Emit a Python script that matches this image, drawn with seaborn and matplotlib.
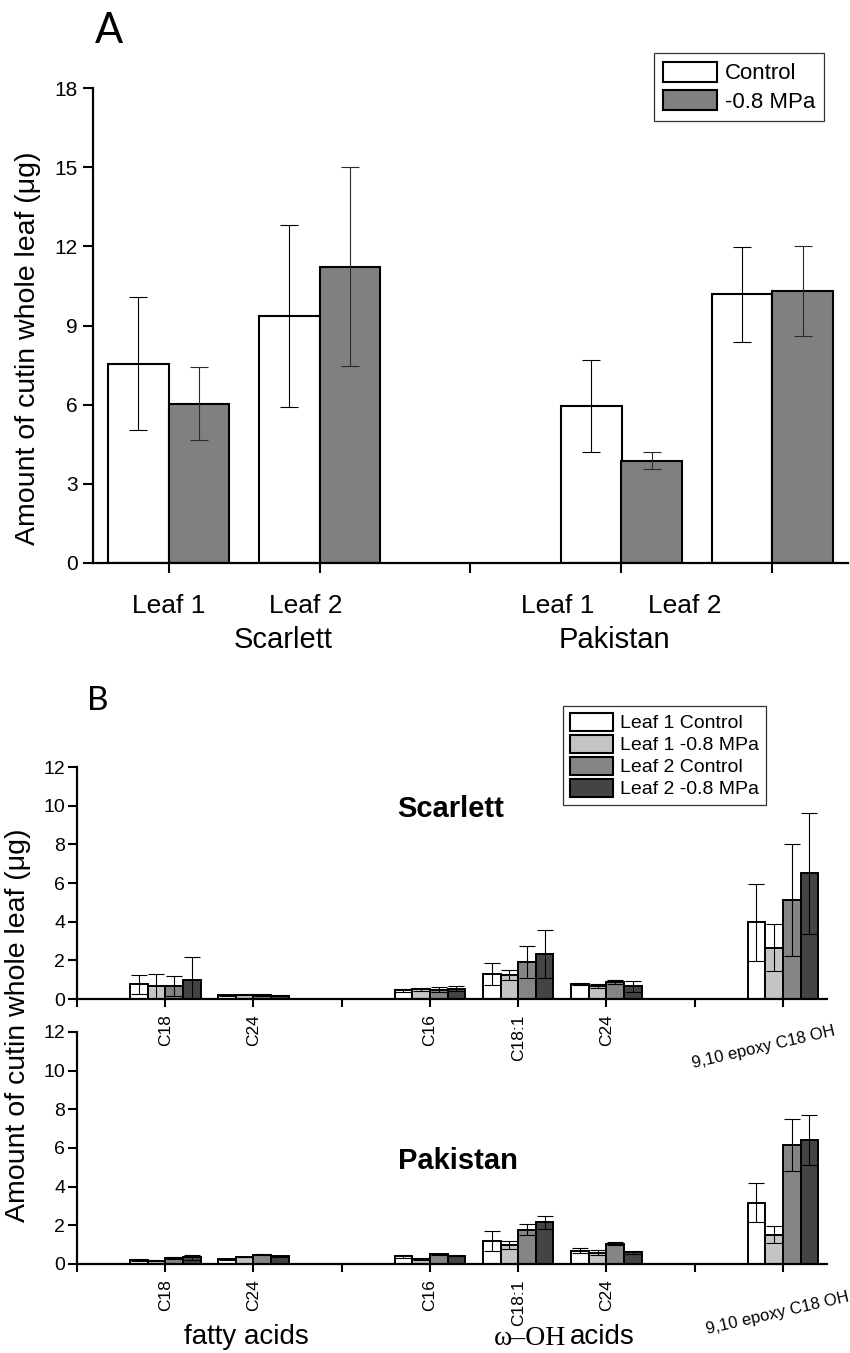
import matplotlib
matplotlib.use("Agg")
import matplotlib.pyplot as plt
import matplotlib.transforms as mtransforms
from matplotlib.patches import Patch
from matplotlib.colors import to_hex
import numpy as np
import pandas as pd
import seaborn as sns

# ---------------- data ----------------
# Panel A
a_groups = ["Scarlett Leaf 1", "Scarlett Leaf 2", "Pakistan Leaf 1", "Pakistan Leaf 2"]
a_order = ["Scarlett Leaf 1", "Scarlett Leaf 2", "gap", "Pakistan Leaf 1", "Pakistan Leaf 2"]
a_series = ["Control", "-0.8 MPa"]
a_control = [7.55, 9.37, 5.96, 10.18]
a_control_err = [2.52, 3.45, 1.75, 1.80]
a_stress = [6.03, 11.23, 3.88, 10.32]
a_stress_err = [1.38, 3.77, 0.33, 1.70]
a_yticks = [0, 3, 6, 9, 12, 15, 18]

# Panel B
b_keys = ["FA C18", "FA C24", "OH C16", "OH C18:1", "OH C24", "epoxy"]
b_order = ["FA C18", "FA C24", "gap1", "OH C16", "OH C18:1", "OH C24", "gap2", "epoxy"]
b_ticklabels = ["", "C18", "C24", "", "C16", "C18:1", "C24", "", ""]
b_epoxy_label = "9,10 epoxy C18 OH"
b_series = ["Leaf 1 Control", "Leaf 1 -0.8 MPa", "Leaf 2 Control", "Leaf 2 -0.8 MPa"]

sc_l1c = [0.76, 0.19, 0.45, 1.31, 0.78, 3.96]
sc_l1c_err = [0.50, 0.03, 0.07, 0.56, 0.05, 2.00]
sc_l1s = [0.66, 0.22, 0.50, 1.24, 0.69, 2.66]
sc_l1s_err = [0.64, 0.03, 0.07, 0.26, 0.10, 1.21]
sc_l2c = [0.66, 0.21, 0.48, 1.93, 0.88, 5.13]
sc_l2c_err = [0.53, 0.03, 0.12, 0.82, 0.10, 2.90]
sc_l2s = [0.97, 0.16, 0.54, 2.33, 0.66, 6.51]
sc_l2s_err = [1.19, 0.03, 0.15, 1.26, 0.29, 3.13]

pk_l1c = [0.21, 0.24, 0.40, 1.19, 0.69, 3.18]
pk_l1c_err = [0.06, 0.03, 0.08, 0.52, 0.12, 1.02]
pk_l1s = [0.16, 0.36, 0.28, 0.99, 0.59, 1.52]
pk_l1s_err = [0.03, 0.02, 0.05, 0.19, 0.12, 0.45]
pk_l2c = [0.31, 0.47, 0.50, 1.78, 1.04, 6.15]
pk_l2c_err = [0.05, 0.03, 0.04, 0.28, 0.08, 1.35]
pk_l2s = [0.35, 0.40, 0.42, 2.16, 0.60, 6.41]
pk_l2s_err = [0.12, 0.02, 0.02, 0.34, 0.06, 1.30]
b_yticks = [0, 2, 4, 6, 8, 10, 12]

# ---------------- style ----------------
sns.set_style("ticks")
plt.rcParams["font.family"] = ["Liberation Sans", "DejaVu Sans"]
plt.rcParams["text.color"] = "black"
plt.rcParams["axes.labelcolor"] = "black"
plt.rcParams["xtick.color"] = "black"
plt.rcParams["ytick.color"] = "black"
plt.rcParams["axes.edgecolor"] = "black"

pal_a = {"Control": "#ffffff", "-0.8 MPa": "#808080"}
pal_b = {"Leaf 1 Control": "#ffffff", "Leaf 1 -0.8 MPa": "#c4c4c4",
         "Leaf 2 Control": "#858585", "Leaf 2 -0.8 MPa": "#444444"}

W, H = 850, 1353
fig = plt.figure(figsize=(W / 100, H / 100), dpi=100)


def fx(px):
    return px / W


def fy(py):
    return 1 - py / H


def long_df(cats, series_vals, series_errs, series_names):
    rows = []
    for name, vals, errs in zip(series_names, series_vals, series_errs):
        for c, v, e in zip(cats, vals, errs):
            rows.append({"cat": c, "grp": name, "val": v, "err": e})
    return pd.DataFrame(rows)


def draw(ax, df, order, hue_order, palette, lw, cap, elw, ecolors):
    sns.barplot(data=df, x="cat", y="val", hue="grp", order=order,
                hue_order=hue_order, palette=palette, edgecolor="black",
                linewidth=lw, errorbar=None, ax=ax, legend=False,
                width=0.8, saturation=1, zorder=2)
    col2grp = {to_hex(c): g for g, c in palette.items()}
    for p in ax.patches:
        h = p.get_height()
        if not np.isfinite(h) or h <= 0:
            continue
        cx = p.get_x() + p.get_width() / 2
        cat = order[int(round(cx))]
        grp = col2grp[to_hex(p.get_facecolor())]
        row = df[(df["cat"] == cat) & (df["grp"] == grp)].iloc[0]
        ax.errorbar(cx, h, yerr=row["err"], fmt="none", ecolor=ecolors[grp],
                    elinewidth=elw, capsize=cap, capthick=elw, zorder=3)
    ax.set_xlabel("")
    ax.set_ylabel("")
    for s in ["top", "right"]:
        ax.spines[s].set_visible(False)
    for s in ["left", "bottom"]:
        ax.spines[s].set_linewidth(1.6)
        ax.spines[s].set_color("black")


# ---------------- Panel A ----------------
axA = fig.add_axes([fx(93), fy(563), fx(848 - 93), (563 - 88) / H])
dfA = long_df(a_groups, [a_control, a_stress], [a_control_err, a_stress_err], a_series)
draw(axA, dfA, a_order, a_series, pal_a, 1.5, 6.5, 0.8,
     {"Control": "black", "-0.8 MPa": "#2a2a2a"})
axA.set_xlim(-0.5, 4.5)
axA.set_ylim(0, 18)
axA.set_yticks(a_yticks)
axA.set_yticklabels([str(t) for t in a_yticks], fontsize=15)
axA.set_xticks(range(len(a_order)))
axA.set_xticklabels([])
axA.tick_params(axis="y", length=7, width=1.5, pad=4, colors="black")
axA.tick_params(axis="x", length=7, width=1.5, direction="out")

tA = mtransforms.blended_transform_factory(axA.transData, fig.transFigure)
for xpos, lab in [(0.0, "Leaf 1"), (0.91, "Leaf 2"), (2.58, "Leaf 1"), (3.42, "Leaf 2")]:
    fig.text(xpos, fy(613), lab, transform=tA, ha="center", va="baseline", fontsize=19)
for xpos, lab in [(0.76, "Scarlett"), (2.95, "Pakistan")]:
    fig.text(xpos, fy(648), lab, transform=tA, ha="center", va="baseline", fontsize=21)

fig.text(fx(28), fy(348), "Amount of cutin whole leaf (\u03bcg)", rotation=90,
         ha="center", va="center", fontsize=20.5)
fig.text(fx(109), fy(43), "A", fontsize=30, ha="center", va="baseline",
         family=["Lato", "DejaVu Sans"])

legA = fig.legend(handles=[Patch(facecolor=pal_a[s], edgecolor="black", linewidth=1.5, label=s)
                           for s in a_series],
                  loc="upper left", bbox_to_anchor=(fx(654), fy(53)),
                  bbox_transform=fig.transFigure, frameon=True, fancybox=False,
                  edgecolor="black", fontsize=16, handlelength=2.45, handleheight=1.0,
                  handletextpad=0.35, labelspacing=0.25, borderpad=0.4, borderaxespad=0)
legA.get_frame().set_linewidth(0.9)

# ---------------- Panel B ----------------
eb = {s: "black" for s in b_series}
axB1 = fig.add_axes([fx(77), fy(999), fx(827 - 77), (999 - 767) / H])
dfS = long_df(b_keys, [sc_l1c, sc_l1s, sc_l2c, sc_l2s],
              [sc_l1c_err, sc_l1s_err, sc_l2c_err, sc_l2s_err], b_series)
draw(axB1, dfS, b_order, b_series, pal_b, 1.4, 5.5, 0.8, eb)

axB2 = fig.add_axes([fx(77), fy(1264), fx(827 - 77), (1264 - 1032) / H])
axB2.patch.set_alpha(0)
dfP = long_df(b_keys, [pk_l1c, pk_l1s, pk_l2c, pk_l2s],
              [pk_l1c_err, pk_l1s_err, pk_l2c_err, pk_l2s_err], b_series)
draw(axB2, dfP, b_order, b_series, pal_b, 1.4, 5.5, 0.8, eb)
axB1.set_zorder(2)
axB1.patch.set_alpha(0)

for ax in (axB1, axB2):
    ax.set_xlim(-1, 7.5)
    ax.set_ylim(0, 12)
    ax.set_yticks(b_yticks)
    ax.set_yticklabels([str(t) for t in b_yticks], fontsize=14)
    ax.set_xticks(range(-1, len(b_order)))
    ax.set_xticklabels(b_ticklabels, rotation=90, fontsize=12.5)
    ax.tick_params(axis="y", length=6.5, width=1.5, pad=2)
    ax.tick_params(axis="x", length=6, width=1.5, pad=5)

fig.text(fx(764), fy(1047), b_epoxy_label, rotation=13, rotation_mode="anchor",
         ha="center", va="center", fontsize=12)
fig.text(fx(778), fy(1313), b_epoxy_label, rotation=13, rotation_mode="anchor",
         ha="center", va="center", fontsize=12)

fig.text(fx(451), fy(817), "Scarlett", fontsize=21, weight="bold", ha="center", va="baseline")
fig.text(fx(458), fy(1169), "Pakistan", fontsize=21, weight="bold", ha="center", va="baseline")

fig.text(fx(246), fy(1344), "fatty acids", fontsize=20, ha="center", va="baseline")
fig.text(fx(566), fy(1345), "\u03c9\u2013OH", fontsize=20, ha="right", va="baseline",
         family=["Liberation Serif", "DejaVu Serif"])
fig.text(fx(570), fy(1344), "acids", fontsize=20, ha="left", va="baseline")

fig.text(fx(18), fy(1025), "Amount of cutin whole leaf (\u03bcg)", rotation=90,
         ha="center", va="center", fontsize=20.5)
fig.text(fx(98), fy(710), "B", fontsize=24, ha="center", va="baseline",
         family=["Lato", "DejaVu Sans"])

legB = fig.legend(handles=[Patch(facecolor=pal_b[s], edgecolor="black", linewidth=1.5, label=s)
                           for s in b_series],
                  loc="upper left", bbox_to_anchor=(fx(563), fy(706)),
                  bbox_transform=fig.transFigure, frameon=True, fancybox=False,
                  edgecolor="black", fontsize=14, handlelength=2.2, handleheight=1.05,
                  handletextpad=0.4, labelspacing=0.12, borderpad=0.35, borderaxespad=0)
legB.get_frame().set_linewidth(0.9)

fig.savefig("out.png", dpi=100)
